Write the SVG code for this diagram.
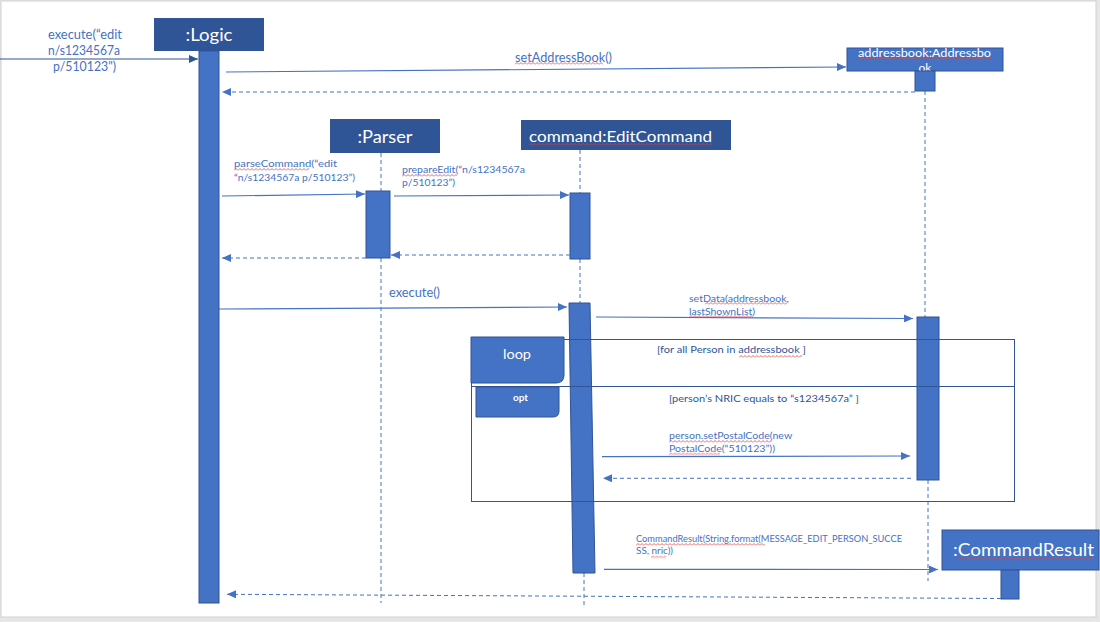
<svg xmlns="http://www.w3.org/2000/svg" width="1100" height="622" viewBox="0 0 1100 622">
  <style>
    .hdr-dark { fill: #2f5597; }
    .hdr-light { fill: #4472c4; stroke: #2f5597; stroke-width: 1; }
    .bar { fill: #4472c4; stroke: #2f5597; stroke-width: 1; }
    .life { stroke: #4472c4; stroke-width: 1; stroke-dasharray: 4 3; fill: none; }
    .msg { stroke: #4472c4; stroke-width: 1.2; fill: none; marker-end: url(#arrow); }
    .ret { stroke: #4472c4; stroke-width: 1; stroke-dasharray: 4 3; fill: none; marker-end: url(#arrow); }
    .frame { fill: none; stroke: #2f5597; stroke-width: 1; }
    .title { font-family: "Lato", "Liberation Sans", sans-serif; fill: #ffffff; }
    .lbl { font-family: "Lato", "Liberation Sans", sans-serif; fill: #4472c4; }
    .guard { font-family: "Lato", "Liberation Sans", sans-serif; fill: #2f5597; font-size: 10.2px; }
    .sq { fill: url(#squiggle); }
  </style>
  <defs>
    <marker id="arrow" markerUnits="userSpaceOnUse" markerWidth="10" markerHeight="8" refX="9" refY="4" orient="auto">
      <path d="M0,0 L9,4 L0,8 z" fill="#4472c4"/>
    </marker>
    <marker id="arrowDark" markerUnits="userSpaceOnUse" markerWidth="10" markerHeight="8" refX="9" refY="4" orient="auto">
      <path d="M0,0 L9,4 L0,8 z" fill="#2f5597"/>
    </marker>
    <!-- spell-check wavy underline -->
    <pattern id="squiggle" width="4" height="3" patternUnits="userSpaceOnUse">
      <path d="M0,2.5 L2,0.5 L4,2.5" fill="none" stroke="#e0403a" stroke-width="0.8"/>
    </pattern>
    <clipPath id="abClip">
      <rect x="847" y="48" width="156" height="23"/>
    </clipPath>
  </defs>

  <!-- page -->
  <rect x="0" y="0" width="1100" height="622" fill="#e6e6e6"/>
  <rect x="1" y="1" width="1095" height="616" fill="#ffffff" stroke="#d0d0d0" stroke-width="1"/>

  <!-- lifelines -->
  <g id="lifelines">
    <line class="life" x1="381" y1="153" x2="381" y2="191"/>
    <line class="life" x1="381" y1="258" x2="381" y2="603"/>
    <line class="life" x1="580" y1="150" x2="580" y2="193"/>
    <line class="life" x1="580" y1="259" x2="580" y2="303"/>
    <line class="life" x1="584" y1="573" x2="584" y2="608"/>
    <line class="life" x1="925" y1="91" x2="925" y2="317"/>
    <line class="life" x1="928" y1="480" x2="928" y2="581"/>
  </g>

  <g id="logic">
    <rect class="hdr-dark" x="154" y="18" width="110" height="33"/>
    <text class="title" x="209" y="41" font-size="17" text-anchor="middle" textLength="47" lengthAdjust="spacingAndGlyphs">:Logic</text>
    <rect class="bar" x="199" y="51" width="20" height="552"/>
  </g>

  <g id="parser">
    <rect class="hdr-dark" x="330" y="119" width="110" height="34"/>
    <text class="title" x="385" y="143.3" font-size="17" text-anchor="middle" textLength="55" lengthAdjust="spacingAndGlyphs">:Parser</text>
    <rect class="bar" x="366" y="191" width="24" height="67"/>
  </g>

  <g id="editCommand">
    <rect class="hdr-dark" x="521" y="120" width="210" height="30"/>
    <text class="title" x="529" y="141.7" font-size="14.5" textLength="183" lengthAdjust="spacingAndGlyphs">command:EditCommand</text>
    <rect class="sq" x="0" y="0" width="183" height="3" transform="translate(529,143)"/>
    <rect class="bar" x="570" y="193" width="20" height="66"/>
    <polygon class="bar" points="569,303 590,303 595,573 573,573"/>
  </g>

  <g id="addressbook">
    <rect class="hdr-light" x="847" y="48" width="156" height="23"/>
    <g clip-path="url(#abClip)">
      <text class="title" x="858" y="57" font-size="11.5" textLength="133" lengthAdjust="spacingAndGlyphs">addressbook:Addressbo</text>
      <text class="title" x="925" y="71.5" font-size="11.5" text-anchor="middle" textLength="13" lengthAdjust="spacingAndGlyphs">ok</text>
    </g>
    <rect class="sq" x="0" y="0" width="133" height="3" transform="translate(858,57)"/>
    <rect class="bar" x="915" y="71" width="20" height="20"/>
    <rect class="bar" x="917" y="317" width="22" height="163"/>
  </g>

  <g id="commandResult">
    <rect class="hdr-light" x="942" y="530" width="157" height="40"/>
    <text class="title" x="953" y="555.7" font-size="17.5" textLength="141" lengthAdjust="spacingAndGlyphs">:CommandResult</text>
    <rect class="sq" x="0" y="0" width="137" height="3" transform="translate(957,557)"/>
    <rect class="bar" x="1001" y="570" width="18" height="29"/>
  </g>

  <!-- loop / opt combined fragment -->
  <g id="loopFragment">
    <rect class="frame" x="471.5" y="339.5" width="543" height="162"/>
    <line class="frame" x1="471" y1="386.5" x2="1015" y2="386.5"/>
    <path d="M471,337 H564 V375 Q564,383 556,383 H471 z" fill="#4472c4" stroke="#2f5597" stroke-width="1"/>
    <text class="title" x="517" y="359" font-size="13.5" text-anchor="middle" textLength="28" lengthAdjust="spacingAndGlyphs">loop</text>
    <path d="M476,387 H559 V411 Q559,417 553,417 H476 z" fill="#4472c4" stroke="#2f5597" stroke-width="1"/>
    <text class="title" x="520.5" y="401" font-size="9" font-weight="bold" text-anchor="middle" textLength="15" lengthAdjust="spacingAndGlyphs">opt</text>
    <text class="guard" x="657" y="353.3" textLength="149" lengthAdjust="spacingAndGlyphs">[for all Person in addressbook ]</text>
    <rect class="sq" x="0" y="0" width="63" height="3" transform="translate(739,355)"/>
    <text class="guard" x="669" y="401.7" textLength="190" lengthAdjust="spacingAndGlyphs">[person’s NRIC equals to “s1234567a” ]</text>
  </g>

  <g id="connectors">
    <!-- incoming call -->
    <line x1="0" y1="59" x2="198" y2="59" stroke="#2f5597" stroke-width="1.2" marker-end="url(#arrowDark)"/>
    <text class="lbl" font-size="13">
      <tspan x="48" y="39" textLength="74" lengthAdjust="spacingAndGlyphs">execute(“edit</tspan>
      <tspan x="48" y="55" textLength="72" lengthAdjust="spacingAndGlyphs">n/s1234567a</tspan>
      <tspan x="53" y="70.5" textLength="63" lengthAdjust="spacingAndGlyphs">p/510123")</tspan>
    </text>

    <!-- setAddressBook -->
    <line class="msg" x1="226" y1="72" x2="846" y2="67"/>
    <text class="lbl" x="515" y="61.5" font-size="13" textLength="97" lengthAdjust="spacingAndGlyphs">setAddressBook()</text>
    <rect class="sq" x="0" y="0" width="88" height="3" transform="translate(515,62)"/>
    <line class="ret" x1="915" y1="92" x2="222" y2="92"/>

    <!-- parseCommand -->
    <line class="msg" x1="222" y1="196" x2="365" y2="194"/>
    <text class="lbl" font-size="10.2">
      <tspan x="234" y="167.3" textLength="103" lengthAdjust="spacingAndGlyphs">parseCommand(“edit</tspan>
      <tspan x="234" y="180.7" textLength="121" lengthAdjust="spacingAndGlyphs">“n/s1234567a p/510123”)</tspan>
    </text>
    <rect class="sq" x="0" y="0" width="75" height="3" transform="translate(234,168)"/>

    <!-- prepareEdit -->
    <line class="msg" x1="394" y1="196" x2="569" y2="195"/>
    <text class="lbl" font-size="10.2">
      <tspan x="402" y="173.3" textLength="123" lengthAdjust="spacingAndGlyphs">prepareEdit(“n/s1234567a</tspan>
      <tspan x="402" y="186" textLength="53" lengthAdjust="spacingAndGlyphs">p/510123”)</tspan>
    </text>
    <rect class="sq" x="0" y="0" width="55" height="3" transform="translate(402,174)"/>

    <line class="ret" x1="570" y1="255" x2="391" y2="255"/>
    <line class="ret" x1="366" y1="258" x2="222" y2="258"/>

    <!-- execute() -->
    <line class="msg" x1="219" y1="309" x2="567" y2="307"/>
    <text class="lbl" x="389" y="296.7" font-size="13" textLength="51" lengthAdjust="spacingAndGlyphs">execute()</text>

    <!-- setData -->
    <line class="msg" x1="596" y1="317" x2="913" y2="318.5"/>
    <text class="lbl" font-size="10.2">
      <tspan x="689" y="302" textLength="100" lengthAdjust="spacingAndGlyphs">setData(addressbook,</tspan>
      <tspan x="689" y="314.7" textLength="66" lengthAdjust="spacingAndGlyphs">lastShownList)</tspan>
    </text>
    <rect class="sq" x="0" y="0" width="82" height="3" transform="translate(705,302)"/>
    <rect class="sq" x="0" y="0" width="64" height="3" transform="translate(689,315)"/>

    <!-- setPostalCode -->
    <line class="msg" x1="602" y1="456.7" x2="910" y2="456"/>
    <text class="lbl" font-size="9.5">
      <tspan x="669" y="439.3" textLength="123" lengthAdjust="spacingAndGlyphs">person.setPostalCode(new</tspan>
      <tspan x="669" y="452" textLength="106" lengthAdjust="spacingAndGlyphs">PostalCode(“510123”))</tspan>
    </text>
    <rect class="sq" x="0" y="0" width="103" height="3" transform="translate(669,440)"/>
    <rect class="sq" x="0" y="0" width="51" height="3" transform="translate(669,452.5)"/>
    <line class="ret" x1="911" y1="478.3" x2="603" y2="478.3"/>

    <!-- CommandResult creation -->
    <line class="msg" x1="604" y1="569.3" x2="938" y2="569.5"/>
    <text class="lbl" font-size="9.3">
      <tspan x="636" y="542" textLength="266" lengthAdjust="spacingAndGlyphs">CommandResult(String.format(MESSAGE_EDIT_PERSON_SUCCE</tspan>
      <tspan x="636" y="554.3" textLength="37" lengthAdjust="spacingAndGlyphs">SS, nric))</tspan>
    </text>
    <rect class="sq" x="0" y="0" width="129" height="3" transform="translate(636,543)"/>
    <rect class="sq" x="0" y="0" width="15" height="3" transform="translate(651,555.5)"/>

    <!-- final return -->
    <line class="ret" x1="1001" y1="598.5" x2="227" y2="594.3"/>
  </g>
</svg>
